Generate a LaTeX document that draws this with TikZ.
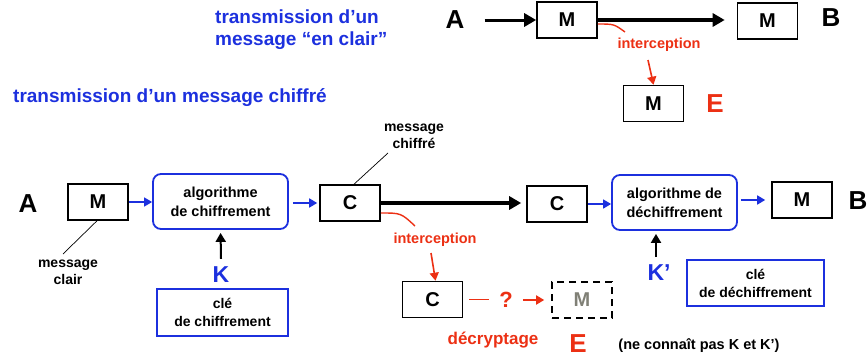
\documentclass[tikz,border=0pt]{standalone}
\usepackage{fontspec}
\setmainfont{Liberation Sans}
\usetikzlibrary{arrows.meta}
\definecolor{tblue}{RGB}{28,48,222}
\definecolor{tred}{RGB}{236,48,20}
\definecolor{tgray}{RGB}{128,128,118}
\newcommand\fz[2]{\fontsize{#1}{#2}\selectfont\bfseries}
\tikzset{
  box/.style={draw, line width=1.6pt, minimum width=60pt, minimum height=36pt, inner sep=0pt, font=\fz{20}{24}},
  alg/.style={draw=tblue, line width=1.8pt, rounded corners=8pt, align=center, inner sep=0pt, font=\fz{14.5}{19}},
  keybox/.style={draw=tblue, line width=1.2pt, align=center, inner sep=0pt, font=\fz{14}{18}},
  big/.style={inner sep=0pt, font=\fz{26}{30}},
  lbl/.style={inner sep=0pt, align=center, font=\fz{14}{17}},
  title/.style={inner sep=0pt, align=left, text=tblue, font=\fz{19}{22}},
  heavy/.style={line width=3.5pt, -{Triangle[length=12pt,width=13pt]}},
  blarrow/.style={tblue, line width=1.6pt, -{Triangle[length=8pt,width=9pt]}},
  karrow/.style={line width=2pt, -{Triangle[length=9pt,width=10pt]}},
  rarrow/.style={tred, line width=1.6pt, -{Triangle[length=8pt,width=9pt]}},
  rline/.style={tred, line width=1.4pt},
  thin/.style={line width=0.7pt}
}
\begin{document}
\begin{tikzpicture}[x=1pt,y=-1pt]
\useasboundingbox (0,0) rectangle (867,356);
% ---------- top: clear transmission ----------
\node[title, anchor=north west] (t1) at (215,10) {transmission d’un\\message “en clair”};
\node[title, anchor=west] (t2) at (13,98) {transmission d’un message chiffré};
\node[big] (A1) at (455,20) {A};
\node[box] (M1) at (567,20) {M};
\node[box] (M2) at (767.5,21) {M};
\node[big] (B1) at (831,18) {B};
\node[box] (M3) at (653.5,103.5) {M};
\node[big, text=tred] (E1) at (715,104) {E};
\node[lbl, text=tred, font=\fz{14.5}{17}] (i1) at (659,45) {interception};
\draw[heavy, line width=3pt] ([xshift=20pt]A1.east) -- (M1.west);
\draw[heavy, line width=4pt, shorten >=12pt] (M1.east) -- (M2.west |- M1.east);
\coordinate (r1) at (625,32);
\draw[rline] ([yshift=-4pt]M1.east) .. controls (614,24) .. (r1);
\coordinate (r1s) at (648,60);
\draw[rarrow] (r1s) -- (M3.north);
% ---------- bottom: encrypted transmission ----------
\node[big] (A2) at (28,204) {A};
\node[box] (Mb) at (98,202) {M};
\node[alg, minimum width=135pt, minimum height=55pt] (alg1) at (220.5,201.5) {algorithme\\de chiffrement};
\node[box] (Cb) at (350,203) {C};
\node[box] (C2) at (557,204) {C};
\node[alg, minimum width=125pt, minimum height=55pt] (alg2) at (674.5,202.5) {algorithme de\\déchiffrement};
\node[box] (Mb2) at (802,200) {M};
\node[big] (B2) at (858,201) {B};
\draw[blarrow] (Mb.east) -- (alg1.west |- Mb.east);
\draw[blarrow, shorten <=4pt, shorten >=2pt] (alg1.east |- Cb.west) -- (Cb.west);
\draw[heavy, shorten >=5pt] (Cb.east) -- (C2.west |- Cb.east);
\draw[blarrow] (C2.east) -- (alg2.west |- C2.east);
\draw[blarrow, shorten <=3pt, shorten >=6pt] (alg2.east |- Mb2.west) -- (Mb2.west);
% keys
\node[inner sep=0pt, text=tblue, font=\fz{23}{26}] (K) at (221,275) {K};
\node[keybox, minimum width=131pt, minimum height=47pt] (key1) at (222.5,312.5) {clé\\de chiffrement};
\draw[karrow, shorten >=3pt] ([yshift=8pt]K.north) -- (alg1.south);
\node[inner sep=0pt, text=tblue, font=\fz{23}{26}] (K2) at (659,273) {K’};
\node[keybox, minimum width=137pt, minimum height=46pt] (key2) at (755.5,283) {clé\\de déchiffrement};
\coordinate (k2s) at (656,257);
\draw[karrow, shorten >=3pt] (k2s) -- (k2s |- alg2.south);
% annotations
\node[lbl] (mc) at (68,272) {message\\clair};
\coordinate (mcl) at (63,254);
\draw[thin] ([xshift=-1pt]Mb.south) -- (mcl);
\node[lbl] (mch) at (414,136) {message\\chiffré};
\coordinate (mchl) at (388,153);
\draw[thin] (mchl) -- ([xshift=4pt]Cb.north);
% interception of ciphertext
\node[lbl, text=tred, font=\fz{14.5}{17}] (i2) at (435,240) {interception};
\coordinate (r2) at (415,226);
\draw[rline] ([yshift=-10pt]Cb.east) .. controls (401,213) .. (r2);
\node[box] (Cc) at (432.5,299.5) {C};
\coordinate (r2s) at (431,253);
\draw[rarrow] (r2s) -- ([xshift=3pt]Cc.north);
\draw[rline, line width=1.8pt] ([xshift=6pt]Cc.east) -- ++(20,0);
\node[inner sep=0pt, text=tred, font=\fz{22}{26}] (q) at (506,300) {?};
\node[box, dashed, dash pattern=on 7pt off 5pt, text=tgray] (dM) at (582,300) {M};
\draw[rarrow, line width=1.8pt, shorten >=7pt] ([xshift=10pt]q.east |- dM.west) -- (dM.west);
\node[lbl, text=tred, font=\fz{17}{20}] (dec) at (493,340) {décryptage};
\node[big, text=tred] (E2) at (578,343.5) {E};
\node[lbl, font=\fz{14.5}{17}] (nc) at (699,346) {(ne connaît pas K et K’)};
\end{tikzpicture}
\end{document}
